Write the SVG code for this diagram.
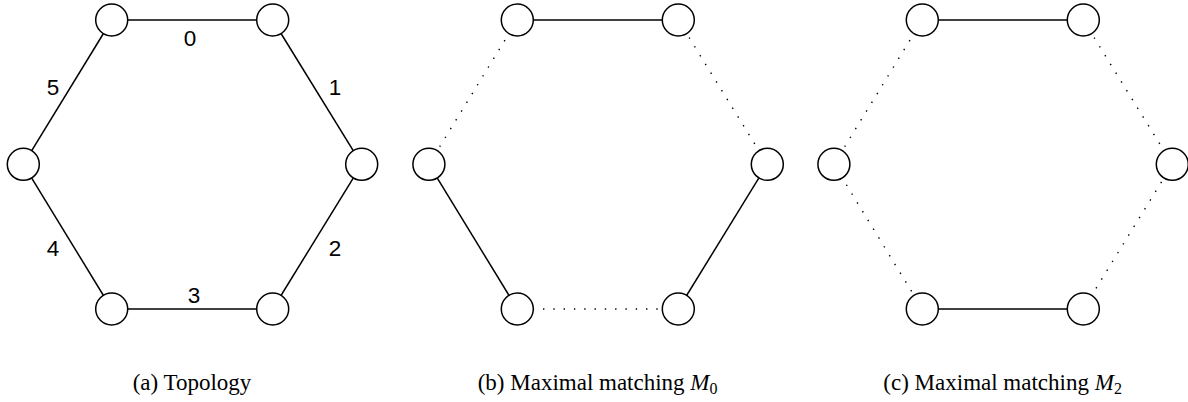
<svg xmlns="http://www.w3.org/2000/svg" width="1188" height="402" viewBox="0 0 1188 402">
<style>
.edge{stroke:#000;stroke-width:1.5;fill:none}
.dot{stroke:#000;stroke-width:1.4;fill:none;stroke-dasharray:1.4 8.9}
.node circle{fill:#fff;stroke:#000;stroke-width:1.5}
.lbl{font-family:"Liberation Sans",Arial,sans-serif;font-size:22.5px;fill:#000;text-anchor:middle}
.cap{font-family:"Liberation Serif","Times New Roman",serif;font-size:23px;fill:#000;text-anchor:middle}
</style>
<rect width="1188" height="402" fill="#fff"/>
<!-- Panel a -->
<g id="panel-a">
<g id="connectors-a">
<line class="edge" x1="111.7" y1="20" x2="272.7" y2="20"/>
<line class="edge" x1="272.7" y1="20" x2="361.7" y2="164.3"/>
<line class="edge" x1="361.7" y1="164.3" x2="272.7" y2="309"/>
<line class="edge" x1="272.7" y1="309" x2="111.7" y2="309"/>
<line class="edge" x1="111.7" y1="309" x2="23.3" y2="164.3"/>
<line class="edge" x1="23.3" y1="164.3" x2="111.7" y2="20"/>
<text class="lbl" x="190" y="45.5">0</text>
<text class="lbl" x="335" y="94.5">1</text>
<text class="lbl" x="335" y="255.5">2</text>
<text class="lbl" x="194" y="303">3</text>
<text class="lbl" x="53" y="255.5">4</text>
<text class="lbl" x="53" y="94.5">5</text>
</g>
<g id="a-n0" class="node"><circle cx="111.7" cy="20" r="16"/></g>
<g id="a-n1" class="node"><circle cx="272.7" cy="20" r="16"/></g>
<g id="a-n2" class="node"><circle cx="361.7" cy="164.3" r="16"/></g>
<g id="a-n3" class="node"><circle cx="272.7" cy="309" r="16"/></g>
<g id="a-n4" class="node"><circle cx="111.7" cy="309" r="16"/></g>
<g id="a-n5" class="node"><circle cx="23.3" cy="164.3" r="16"/></g>
<text class="cap" x="192" y="390">(a) Topology</text>
</g>
<!-- Panel b -->
<g id="panel-b" transform="translate(405.6,0)">
<g id="connectors-b">
<line class="edge" x1="111.7" y1="20" x2="272.7" y2="20"/>
<line class="dot" x1="272.7" y1="20" x2="361.7" y2="164.3"/>
<line class="edge" x1="361.7" y1="164.3" x2="272.7" y2="309"/>
<line class="dot" x1="272.7" y1="309" x2="111.7" y2="309"/>
<line class="edge" x1="111.7" y1="309" x2="23.3" y2="164.3"/>
<line class="dot" x1="23.3" y1="164.3" x2="111.7" y2="20"/>
</g>
<g id="b-n0" class="node"><circle cx="111.7" cy="20" r="16"/></g>
<g id="b-n1" class="node"><circle cx="272.7" cy="20" r="16"/></g>
<g id="b-n2" class="node"><circle cx="361.7" cy="164.3" r="16"/></g>
<g id="b-n3" class="node"><circle cx="272.7" cy="309" r="16"/></g>
<g id="b-n4" class="node"><circle cx="111.7" cy="309" r="16"/></g>
<g id="b-n5" class="node"><circle cx="23.3" cy="164.3" r="16"/></g>
<text class="cap" x="192" y="390">(b) Maximal matching <tspan font-style="italic">M</tspan><tspan font-size="16" dy="4">0</tspan></text>
</g>
<!-- Panel c -->
<g id="panel-c" transform="translate(810.6,0)">
<g id="connectors-c">
<line class="edge" x1="111.7" y1="20" x2="272.7" y2="20"/>
<line class="dot" x1="272.7" y1="20" x2="361.7" y2="164.3"/>
<line class="dot" x1="361.7" y1="164.3" x2="272.7" y2="309"/>
<line class="edge" x1="272.7" y1="309" x2="111.7" y2="309"/>
<line class="dot" x1="111.7" y1="309" x2="23.3" y2="164.3"/>
<line class="dot" x1="23.3" y1="164.3" x2="111.7" y2="20"/>
</g>
<g id="c-n0" class="node"><circle cx="111.7" cy="20" r="16"/></g>
<g id="c-n1" class="node"><circle cx="272.7" cy="20" r="16"/></g>
<g id="c-n2" class="node"><circle cx="361.7" cy="164.3" r="16"/></g>
<g id="c-n3" class="node"><circle cx="272.7" cy="309" r="16"/></g>
<g id="c-n4" class="node"><circle cx="111.7" cy="309" r="16"/></g>
<g id="c-n5" class="node"><circle cx="23.3" cy="164.3" r="16"/></g>
<text class="cap" x="192" y="390">(c) Maximal matching <tspan font-style="italic">M</tspan><tspan font-size="16" dy="4">2</tspan></text>
</g>
</svg>
